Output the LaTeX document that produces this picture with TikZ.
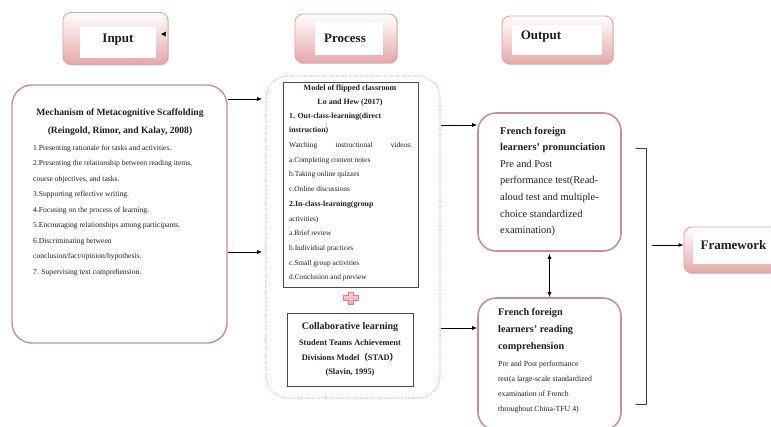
\documentclass[tikz,border=0pt]{standalone}
\usepackage{fontspec}
\setmainfont{Liberation Serif}
\newfontfamily\cjkfont{Noto Sans CJK SC}
\usetikzlibrary{arrows.meta,shadows}
\definecolor{hdrline}{HTML}{D6A2A2}
\definecolor{hdrfill}{HTML}{E5A8A8}
\definecolor{roseline}{HTML}{C69090}
\definecolor{dotpink}{HTML}{F2B8C2}
\definecolor{boxline}{HTML}{4A4A4A}
\definecolor{crossfill}{HTML}{F4A6B0}
\definecolor{crossline}{HTML}{DE7E8B}
\definecolor{ink}{HTML}{1E1E1E}
\begin{document}
\begin{tikzpicture}[x=1pt,y=-1pt,
  every node/.style={text=ink},
  hdr/.style={draw=hdrline, line width=0.8pt, rounded corners=8pt, inner sep=0pt,
    top color=white, bottom color=hdrfill,
    drop shadow={shadow xshift=1.2pt, shadow yshift=-1.2pt, opacity=0.25}},
  hdrin/.style={fill=white, inner sep=0pt},
  hdrtext/.style={inner sep=0pt, font=\fontsize{13}{15}\selectfont\bfseries},
  roundbox/.style={draw=roseline, line width=1.4pt, inner sep=0pt},
  plainbox/.style={draw=boxline, line width=0.8pt, inner sep=0pt},
  listtext/.style={anchor=north west, align=left, inner sep=0pt},
  arr/.style={draw=black, line width=0.8pt, -{Latex[length=5pt,width=4pt]}},
  darr/.style={draw=black, line width=0.8pt, {Latex[length=5pt,width=4pt]}-{Latex[length=5pt,width=4pt]}},
]
\useasboundingbox (0,0) rectangle (771,426);

% ---------- column headers ----------
\node[hdr, minimum width=105pt, minimum height=52pt] (inputhdr) at (115.5,38.5) {};
\node[hdrin, minimum width=76pt, minimum height=31pt] (inputwhite) at (118,42.5) {};
\node[hdrtext] (inputlbl) at (118,40) {Input};
\fill[black] (161,34) -- (166,31.5) -- (165.5,36.5) -- cycle;

\node[hdr, minimum width=102pt, minimum height=49pt] (prochdr) at (346,38.5) {};
\node[hdrin, minimum width=68pt, minimum height=33pt] (procwhite) at (349,38.5) {};
\node[hdrtext] (proclbl) at (345,38) {Process};

\node[hdr, minimum width=111pt, minimum height=48pt] (outhdr) at (557.5,40) {};
\node[hdrin, minimum width=90pt, minimum height=30pt] (outwhite) at (557,40) {};
\node[hdrtext] (outlbl) at (541,37) {Output};

\node[hdr, minimum width=96pt, minimum height=46pt] (fwhdr) at (732,250) {};
\node[hdrin, minimum width=82pt, minimum height=32pt] (fwwhite) at (734,248) {};
\node[hdrtext] (fwlbl) at (733.5,245) {Framework};

% ---------- input: metacognitive scaffolding ----------
\node[roundbox, rounded corners=20pt, minimum width=215pt, minimum height=258pt] (mech) at (119.5,214) {};
\node[inner sep=0pt, font=\fontsize{9.6}{11}\selectfont\bfseries] (mechtitle) at (120,113) {Mechanism of Metacognitive Scaffolding};
\node[inner sep=0pt, font=\fontsize{9.6}{11}\selectfont\bfseries] (mechref) at (120,131) {(Reingold, Rimor, and Kalay, 2008)};
\node[listtext, font=\fontsize{7.6}{15.5}\selectfont] (mechlist) at (33,144.5) {%
1.Presenting rationale for tasks and activities.\\
2.Presenting the relationship between reading items,\\
course objectives, and tasks.\\
3.Supporting reflective writing.\\
4.Focusing on the process of learning.\\
5.Encouraging relationships among participants.\\
6.Discriminating between\\
conclusion/fact/opinion/hypothesis.\\
7. Supervising text comprehension.};

% ---------- process ----------
\node[draw=dotpink, line width=1.6pt, dash pattern=on 0.01pt off 2.4pt, line cap=round,
  rounded corners=22pt, minimum width=174pt, minimum height=322pt, inner sep=0pt] (proc) at (353,237) {};

\node[plainbox, minimum width=135pt, minimum height=205pt] (flip) at (350.5,184.5) {};
\node[inner sep=0pt, font=\fontsize{8}{9}\selectfont\bfseries] (fliptitle) at (350,89) {Model of flipped classroom};
\node[inner sep=0pt, font=\fontsize{8}{9}\selectfont\bfseries] (flipref) at (350,103) {Lo and Hew (2017)};
\node[listtext, font=\fontsize{7.4}{14.7}\selectfont] (fliplist) at (289,112.5) {%
{\fontsize{7.8}{14.7}\selectfont\bfseries 1. Out-class-learning(direct}\\
{\fontsize{7.8}{14.7}\selectfont\bfseries instruction)}\\
\makebox[123pt][s]{Watching instructional videos:}\\
a.Completing content notes\\
b.Taking online quizzes\\
c.Online discussions\\
{\fontsize{7.8}{14.7}\selectfont\bfseries 2.In-class-learning(group}\\
activities)\\
a.Brief review\\
b.Individual practices\\
c.Small group activities\\
d.Conclusion and preview};

% plus sign joining the two models
\path[top color=crossfill!45, bottom color=crossfill, draw=crossline, line width=0.5pt]
  (348,292) -- (353,292) -- (353,295.5) -- (358,295.5) -- (358,300.5) -- (353,300.5)
  -- (353,304) -- (348,304) -- (348,300.5) -- (343,300.5) -- (343,295.5) -- (348,295.5) -- cycle;

\node[plainbox, minimum width=126pt, minimum height=73pt] (collab) at (350,350) {};
\node[inner sep=0pt, font=\fontsize{10}{12}\selectfont\bfseries] (collabtitle) at (350,327) {Collaborative learning};
\node[inner sep=0pt, font=\fontsize{8.4}{10}\selectfont\bfseries] (collab1) at (350,343) {Student Teams Achievement};
\node[inner sep=0pt, font=\fontsize{8.4}{10}\selectfont\bfseries] (collab2) at (350,357.5) {Divisions Model{\cjkfont （}STAD{\cjkfont ）}};
\node[inner sep=0pt, font=\fontsize{8.4}{10}\selectfont\bfseries] (collab3) at (350,372) {(Slavin, 1995)};

% ---------- output ----------
\node[roundbox, line width=1.6pt, rounded corners=18pt, minimum width=143pt, minimum height=138pt] (pron) at (549.5,182) {};
\node[listtext, font=\fontsize{10.4}{16.6}\selectfont] (pronlist) at (500,126.5) {%
\textbf{French foreign}\\
\textbf{learners' pronunciation}\\
Pre and Post\\
performance test(Read-\\
aloud test and multiple-\\
choice standardized\\
examination)};

\node[roundbox, line width=1.6pt, rounded corners=18pt, minimum width=143pt, minimum height=132pt] (read) at (549.5,364) {};
\node[listtext, font=\fontsize{10.2}{17}\selectfont\bfseries] (readhead) at (498,308.5) {%
French foreign\\
learners' reading\\
comprehension};
\node[listtext, font=\fontsize{7.8}{15}\selectfont] (readlist) at (498,361) {%
Pre and Post performance\\
test(a large-scale standardized\\
examination of French\\
throughout China-TFU 4)};

% ---------- connectors ----------
\coordinate (r1) at (0,99);
\coordinate (r2) at (0,252);
\coordinate (r3) at (0,125);
\coordinate (r4) at (0,328);
\draw[arr] (mech.east |- r1) -- ([xshift=-3pt]proc.west |- r1);
\draw[arr] (mech.east |- r2) -- ([xshift=-3pt]proc.west |- r2);
\draw[arr] (proc.east |- r3) -- (pron.west |- r3);
\draw[arr] (proc.east |- r4) -- (read.west |- r4);
\draw[darr] ([yshift=-2pt]pron.south) -- (read.north);

% bracket gathering both outputs
\coordinate (brtop) at (636,148);
\coordinate (brbot) at (636,404);
\draw[line width=0.8pt, draw=black!75] (brtop) -- ++(10,0) |- (brbot);
\coordinate (fwstart) at (652,245);
\draw[arr] (fwstart) -- (fwhdr.west |- fwstart);
\end{tikzpicture}
\end{document}
